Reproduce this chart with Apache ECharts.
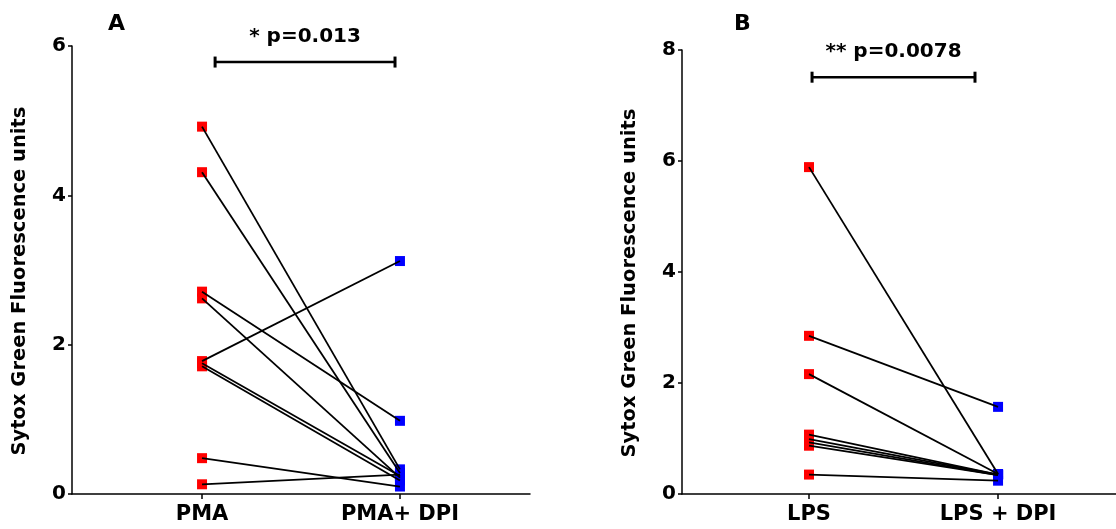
<!DOCTYPE html>
<html>
<head>
<meta charset="utf-8">
<script src="https://cdn.jsdelivr.net/npm/echarts@6/dist/echarts.min.js"></script>
<style>
  html, body { margin: 0; padding: 0; background: #fff; }
  #chart { width: 1116px; height: 529px; }
</style>
</head>
<body>
<div id="chart"></div>
<script>
// panel A
var catsA = ['PMA', 'PMA+ DPI'];
var pmaBefore = [4.92, 4.31, 2.71, 2.62, 1.78, 1.75, 1.71, 0.48, 0.13];
var pmaAfter = [0.33, 0.28, 0.98, 0.22, 3.12, 0.24, 0.18, 0.10, 0.26];
var yTicksA = [0, 2, 4, 6];
var sigA = '* p=0.013';

// panel B
var catsB = ['LPS', 'LPS + DPI'];
var lpsBefore = [5.89, 2.85, 2.16, 1.07, 0.99, 0.93, 0.87, 0.35];
var lpsAfter = [0.36, 1.57, 0.36, 0.35, 0.35, 0.34, 0.34, 0.24];
var yTicksB = [0, 2, 4, 6, 8];
var sigB = '** p=0.0078';

var FONT = 'DejaVu Sans';
var chart = echarts.init(document.getElementById('chart'));

function xAxisFor(idx, cats, min, max) {
  return {
    type: 'value', gridIndex: idx, min: min, max: max,
    axisLine: { lineStyle: { color: '#000', width: 1.5 } },
    axisTick: { show: true, customValues: [1, 2], length: 5, lineStyle: { color: '#000', width: 1.5 } },
    axisLabel: {
      customValues: [1, 2], margin: 10,
      formatter: function (v) { return cats[Math.round(v) - 1]; },
      color: '#000', fontFamily: FONT, fontWeight: 'bold', fontSize: 21
    },
    splitLine: { show: false }
  };
}

function yAxisFor(idx, ticks) {
  return {
    type: 'value', gridIndex: idx, min: ticks[0], max: ticks[ticks.length - 1], interval: 2,
    name: 'Sytox Green Fluorescence units', nameLocation: 'middle', nameGap: 42,
    nameTextStyle: { color: '#000', fontFamily: FONT, fontWeight: 'bold', fontSize: 19.5, padding: [0, 22, 0, 0] },
    axisLine: { show: true, lineStyle: { color: '#000', width: 1.5 } },
    axisTick: { show: true, length: 4, lineStyle: { color: '#000', width: 1.5 } },
    axisLabel: { margin: 6, color: '#000', fontFamily: FONT, fontWeight: 'bold', fontSize: 20 },
    splitLine: { show: false }
  };
}

function pairSeries(idx, before, after) {
  var out = [];
  for (var i = 0; i < before.length; i++) {
    out.push({
      type: 'line', xAxisIndex: idx, yAxisIndex: idx, symbol: 'none', silent: true,
      lineStyle: { color: '#000', width: 1.8 },
      data: [[1, before[i]], [2, after[i]]]
    });
  }
  out.push({
    type: 'scatter', xAxisIndex: idx, yAxisIndex: idx, symbol: 'rect', symbolSize: 10,
    itemStyle: { color: '#ff0000', opacity: 1 },
    data: before.map(function (v) { return [1, v]; })
  });
  out.push({
    type: 'scatter', xAxisIndex: idx, yAxisIndex: idx, symbol: 'rect', symbolSize: 10,
    itemStyle: { color: '#0000ff', opacity: 1 },
    data: after.map(function (v) { return [2, v]; })
  });
  return out;
}

function bracket(idx, x1, x2, y, text) {
  return [{
    type: 'line', xAxisIndex: idx, yAxisIndex: idx, symbol: 'rect', symbolSize: [3, 11],
    itemStyle: { color: '#000', opacity: 1 }, lineStyle: { color: '#000', width: 2.5 }, silent: true,
    data: [[x1, y], [x2, y]]
  }, {
    type: 'scatter', xAxisIndex: idx, yAxisIndex: idx, symbolSize: 0, silent: true,
    itemStyle: { opacity: 1 },
    label: {
      show: true, position: 'top', distance: 15, formatter: text,
      color: '#000', fontFamily: FONT, fontWeight: 'bold', fontSize: 20
    },
    data: [[(x1 + x2) / 2, y]]
  }];
}

var series = [].concat(
  pairSeries(0, pmaBefore, pmaAfter),
  pairSeries(1, lpsBefore, lpsAfter),
  bracket(0, 1.066, 1.975, 5.785, sigA),
  bracket(1, 1.016, 1.878, 7.51, sigB)
);

chart.setOption({
  animation: false,
  backgroundColor: '#fff',
  title: [
    { text: 'A', left: 103, top: 8, textStyle: { color: '#000', fontFamily: FONT, fontWeight: 'bold', fontSize: 22 } },
    { text: 'B', left: 729, top: 8, textStyle: { color: '#000', fontFamily: FONT, fontWeight: 'bold', fontSize: 22 } }
  ],
  grid: [
    { left: 72, top: 46, width: 458, height: 448 },
    { left: 682, top: 50, width: 434, height: 444 }
  ],
  xAxis: [xAxisFor(0, catsA, 0.343, 2.657), xAxisFor(1, catsB, 0.328, 2.624)],
  yAxis: [yAxisFor(0, yTicksA), yAxisFor(1, yTicksB)],
  series: series
});
</script>
</body>
</html>
